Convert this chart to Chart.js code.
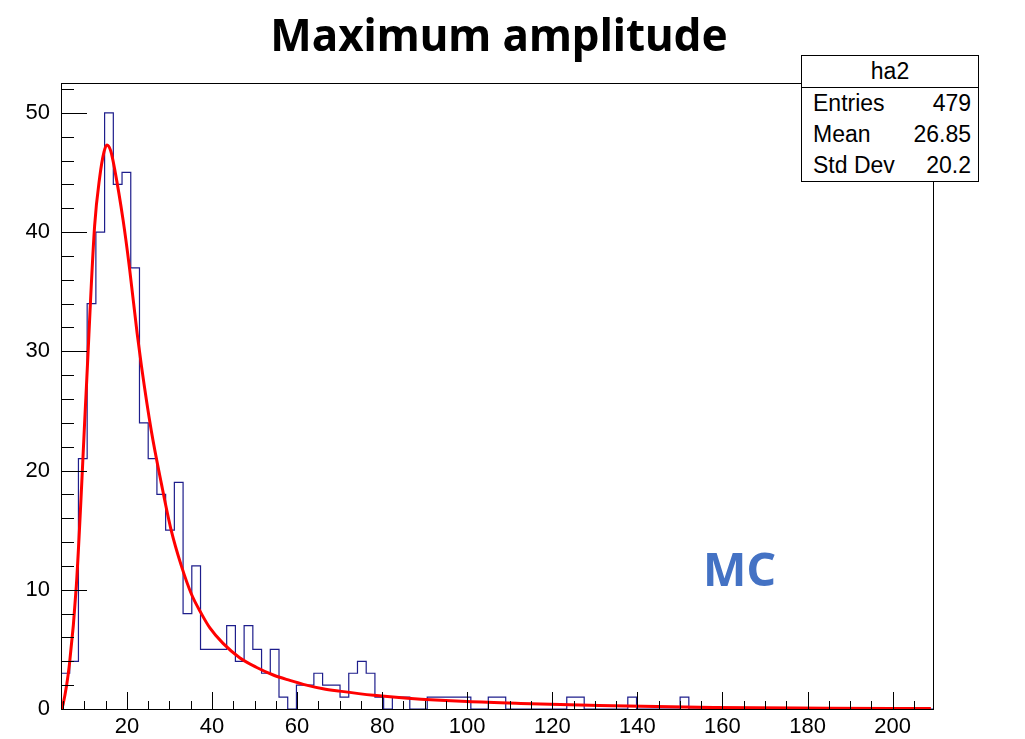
<!DOCTYPE html>
<html>
<head>
<meta charset="utf-8">
<script src="https://cdn.jsdelivr.net/npm/chart.js@4.4.1/dist/chart.umd.min.js"></script>
<style>
  body { margin: 0; background: #fff; }
  #wrap { position: relative; width: 1025px; height: 739px; }
  #title {
    position: absolute; left: 0; top: 4px; width: 998px; text-align: center;
    font: bold 44px "Noto Sans", sans-serif; color: #000;
  }
  #mc {
    position: absolute; left: 703px; top: 537px;
    font: bold 46px "Noto Sans", sans-serif; color: #4472c4;
  }
  #stats {
    position: absolute; left: 801px; top: 55px; width: 176px;
    border: 1px solid #000; background: #fff;
    font: 23px "Liberation Sans", Arial, sans-serif; color: #000;
  }
  #stats .head { height: 31px; line-height: 31px; text-align: center; border-bottom: 1px solid #000; }
  #stats .row { height: 31px; line-height: 31px; padding: 0 7px 0 11px; display: flex; justify-content: space-between; }
</style>
</head>
<body>
<div id="wrap">
  <canvas id="hist" width="1025" height="739"></canvas>
  <div id="title">Maximum amplitude</div>
  <div id="stats">
    <div class="head">ha2</div>
    <div class="row"><span>Entries</span><span>479</span></div>
    <div class="row"><span>Mean</span><span>26.85</span></div>
    <div class="row"><span>Std Dev</span><span>20.2</span></div>
  </div>
  <div id="mc">MC</div>
</div>
<script>
// histogram: 100 bins starting at histMin
const histMin = 4.5;
const binWidth = 2.05;
const counts = [
  3, 4, 21, 34, 40, 50, 44, 45, 37, 24,
  21, 18, 15, 19, 8, 12, 5, 5, 5, 7,
  4, 7, 5, 3, 5, 1, 0, 2, 2, 3,
  2, 2, 1, 3, 4, 3, 1, 0, 1, 1,
  0, 0, 1, 1, 1, 1, 1, 0, 0, 1,
  1, 0, 0, 0, 0, 0, 0, 0, 1, 1,
  0, 0, 0, 0, 0, 1, 0, 0, 0, 0,
  0, 1, 0, 0, 0, 0, 0, 0, 0, 0,
  0, 0, 0, 0, 0, 0, 0, 0, 0, 0,
  0, 0, 0, 0, 0, 0, 0, 0, 0, 0
];
const histMax = histMin + counts.length * binWidth;

// fitted curve
const fitX = [4.6, 5.0, 6.5, 8.1, 10.4, 12.4, 13.6, 14.6, 15.3, 16.2, 17.1, 19.1, 20.6, 22.4, 23.4,
  25.7, 28.1, 30.4, 32.8, 35.2, 37.5, 39.5, 42.6, 46.5, 50.4, 54.4, 58.3, 62.2, 66.1, 70,
  78, 86, 100, 115, 131, 158, 185, 209];
const fitY = [0, 0.4, 3.8, 10.3, 26.5, 40.5, 44.6, 46.7, 47.3, 46.8, 45.3, 41.0, 37.0, 31.5, 28.8,
  23.4, 18.9, 15.0, 12.0, 9.6, 8.0, 6.8, 5.5, 4.3, 3.5, 2.85, 2.4, 2.0, 1.7, 1.5,
  1.15, 0.9, 0.62, 0.45, 0.3, 0.12, 0.07, 0.04];

const xTickLabels = [20, 40, 60, 80, 100, 120, 140, 160, 180, 200];
const yTickLabels = [0, 10, 20, 30, 40, 50];

// outline points for the stepped histogram
const histPoints = [{ x: histMin, y: 0 }];
counts.forEach((c, i) => histPoints.push({ x: histMin + i * binWidth, y: c }));
histPoints.push({ x: histMax, y: 0 });

const fitPoints = fitX.map((x, i) => ({ x: x, y: fitY[i] }));

const labelFont = { family: 'Liberation Sans', size: 22 };

// ROOT style frame with ticks pointing inwards
const rootFrame = {
  id: 'rootFrame',
  afterDatasetsDraw(chart) {
    const ctx = chart.ctx;
    const a = chart.chartArea;
    const xs = chart.scales.x, ys = chart.scales.y;
    ctx.save();
    ctx.strokeStyle = '#000';
    ctx.lineWidth = 1;
    ctx.strokeRect(a.left + 0.5, a.top + 0.5, a.right - a.left, a.bottom - a.top);
    ctx.beginPath();
    for (let v = 5; v < histMax; v += 5) {
      const px = Math.round(xs.getPixelForValue(v)) + 0.5;
      const len = v % 20 === 0 ? 17 : 8;
      ctx.moveTo(px, a.bottom);
      ctx.lineTo(px, a.bottom - len);
    }
    for (let v = 0; v <= ys.max; v += 2) {
      const py = Math.round(ys.getPixelForValue(v)) + 0.5;
      const len = v % 10 === 0 ? 26 : 13;
      ctx.moveTo(a.left, py);
      ctx.lineTo(a.left + len, py);
    }
    ctx.stroke();
    ctx.restore();
  }
};

new Chart(document.getElementById('hist'), {
  type: 'line',
  data: {
    datasets: [
      {
        data: fitPoints,
        borderColor: '#ff0000',
        borderWidth: 3,
        pointRadius: 0,
        cubicInterpolationMode: 'monotone',
        order: 1
      },
      {
        data: histPoints,
        borderColor: '#1e1e8c',
        borderWidth: 1.2,
        pointRadius: 0,
        stepped: true,
        order: 2
      }
    ]
  },
  options: {
    responsive: false,
    devicePixelRatio: 1,
    animation: false,
    layout: { padding: { top: 83, right: 92, left: 0, bottom: 0 } },
    plugins: { legend: { display: false }, tooltip: { enabled: false }, title: { display: false } },
    scales: {
      x: {
        type: 'linear',
        min: histMin,
        max: histMax,
        afterBuildTicks: s => { s.ticks = xTickLabels.map(v => ({ value: v })); },
        afterFit: s => { s.height = 30; },
        grid: { display: false, drawTicks: false },
        border: { display: false },
        ticks: { font: labelFont, color: '#000', padding: 5, maxRotation: 0, autoSkip: false }
      },
      y: {
        min: 0,
        max: 52.5,
        afterBuildTicks: s => { s.ticks = yTickLabels.map(v => ({ value: v })); },
        afterFit: s => { s.width = 61; },
        grid: { display: false, drawTicks: false },
        border: { display: false },
        ticks: { font: labelFont, color: '#000', padding: 11, autoSkip: false }
      }
    }
  },
  plugins: [rootFrame]
});
</script>
</body>
</html>
